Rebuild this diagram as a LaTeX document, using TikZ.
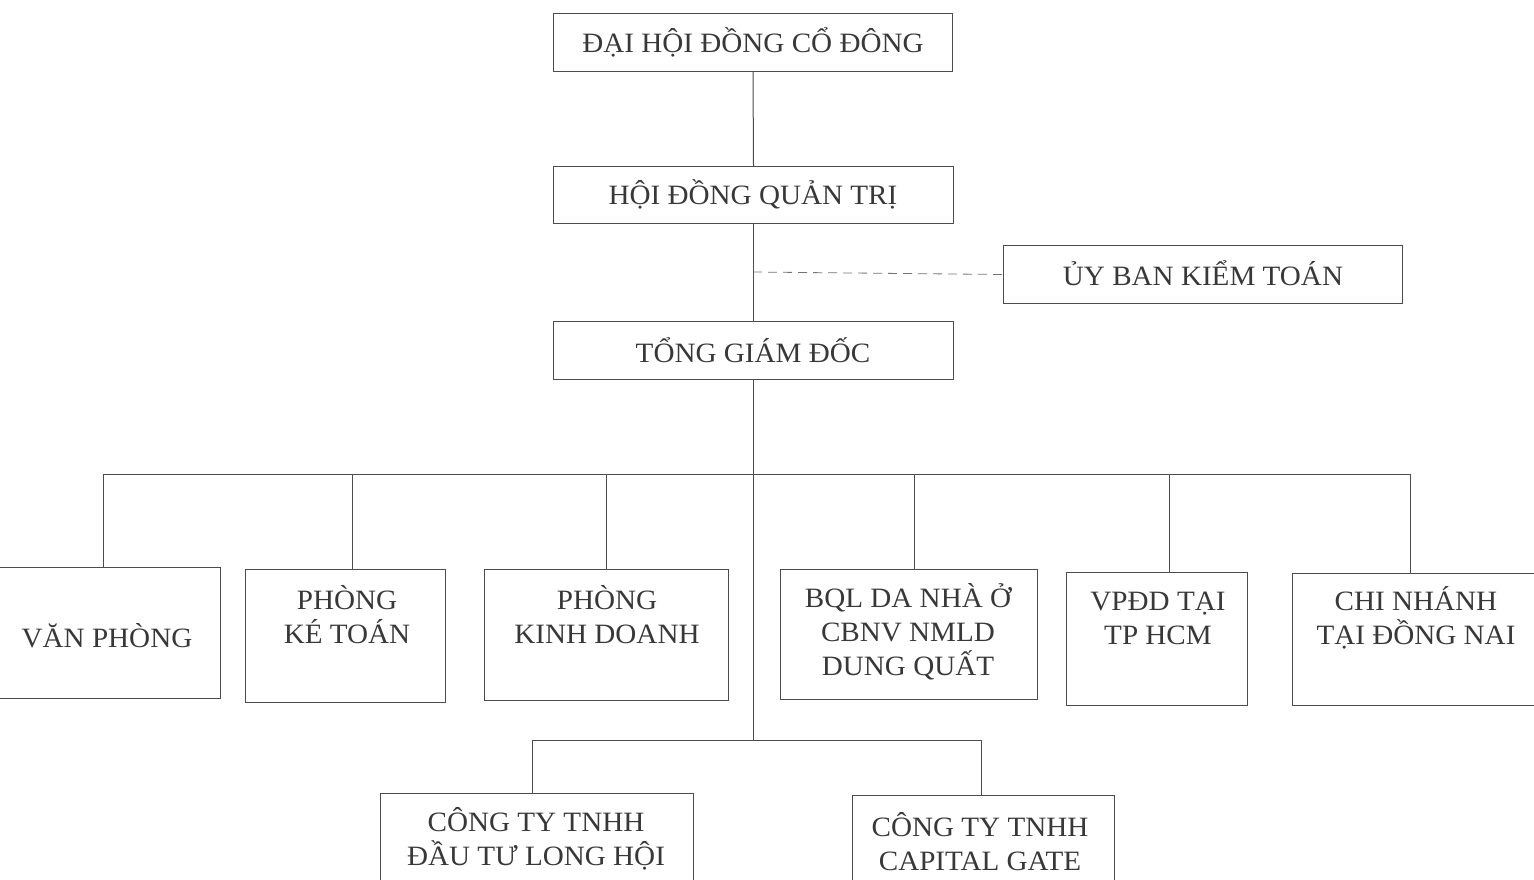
\documentclass[tikz,border=0pt]{standalone}
\usepackage{fontspec}
\setmainfont[FakeStretch=1.04]{Liberation Serif}
\usetikzlibrary{calc}
\begin{document}
\begin{tikzpicture}[x=1pt,y=-1pt,
  box/.style={draw=black!70, line width=1pt, rectangle, inner sep=0pt, anchor=north west},
  lbl/.style={font=\fontsize{28}{34}\selectfont, text=black!78, align=center, inner sep=0pt},
  conn/.style={draw=black!70, line width=1pt},
  auditline/.style={draw=black!55, line width=0.8pt, dash pattern=on 9pt off 6pt}
]
\useasboundingbox (0,0) rectangle (1534,879);

% boxes
\node[box, minimum width=399pt, minimum height=58pt] (dh) at (553,13) {};
\node[box, minimum width=400pt, minimum height=57pt] (hd) at (553,166) {};
\node[box, minimum width=399pt, minimum height=58pt] (ub) at (1003,245) {};
\node[box, minimum width=400pt, minimum height=58pt] (tg) at (553,321) {};
\node[box, minimum width=223pt, minimum height=131pt] (vp) at (-3,567) {};
\node[box, minimum width=200pt, minimum height=133pt] (kt) at (245,569) {};
\node[box, minimum width=244pt, minimum height=131pt] (kd) at (484,569) {};
\node[box, minimum width=257pt, minimum height=130pt] (bq) at (780,569) {};
\node[box, minimum width=181pt, minimum height=133pt] (vd) at (1066,572) {};
\node[box, minimum width=245pt, minimum height=132pt] (cn) at (1292,573) {};
\node[box, minimum width=313pt, minimum height=110pt] (lh) at (380,793) {};
\node[box, minimum width=262pt, minimum height=110pt] (cg) at (852,795) {};

% texts
\node[lbl] (tdh) at (753,42) {ĐẠI HỘI ĐỒNG CỔ ĐÔNG};
\node[lbl] (thd) at (753,194) {HỘI ĐỒNG QUẢN TRỊ};
\node[lbl] (tub) at (1203,273) {ỦY BAN KIỂM TOÁN};
\node[lbl] (ttg) at (753,350) {TỔNG GIÁM ĐỐC};
\node[lbl] (tvp) at (107,636) {VĂN PHÒNG};
\node[lbl] (tkt) at (347,615) {PHÒNG\\KÉ TOÁN};
\node[lbl] (tkd) at (607,615) {PHÒNG\\KINH DOANH};
\node[lbl] (tbq) at (908,632) {BQL DA NHÀ Ở\\CBNV NMLD\\DUNG QUẤT};
\node[lbl] (tvd) at (1158,618) {VPĐD TẠI\\TP HCM};
\node[lbl] (tcn) at (1416,618) {CHI NHÁNH\\TẠI ĐỒNG NAI};
\node[lbl] (tlh) at (536,839) {CÔNG TY TNHH\\ĐẦU TƯ LONG HỘI};
\node[lbl] (tcg) at (980,842) {CÔNG TY TNHH\\CAPITAL GATE};

% junction coordinates
\coordinate (busy) at (0,474);
\coordinate (suby) at (0,740);
\coordinate (audit) at (753,272);

% connectors
\draw[conn] (dh.south) -- (hd.north);
\draw[conn] (hd.south) -- (tg.north);
\draw[auditline] (audit) -- (ub.west);
\draw[conn] (tg.south) -- (tg.south |- suby);
\draw[conn] ([xshift=-6pt]vp.north |- busy) -- ([xshift=-5pt]cn.north |- busy);
\draw[conn] ([xshift=-6pt]vp.north |- busy) -- ([xshift=-6pt]vp.north);
\draw[conn] ([xshift=7pt]kt.north |- busy) -- ([xshift=7pt]kt.north);
\draw[conn] (kd.north |- busy) -- (kd.north);
\draw[conn] ([xshift=5pt]bq.north |- busy) -- ([xshift=5pt]bq.north);
\draw[conn] ([xshift=12pt]vd.north |- busy) -- ([xshift=12pt]vd.north);
\draw[conn] ([xshift=-5pt]cn.north |- busy) -- ([xshift=-5pt]cn.north);
\draw[conn] ([xshift=-5pt]lh.north |- suby) -- ([xshift=-2pt]cg.north |- suby);
\draw[conn] ([xshift=-5pt]lh.north |- suby) -- ([xshift=-5pt]lh.north);
\draw[conn] ([xshift=-2pt]cg.north |- suby) -- ([xshift=-2pt]cg.north);
\end{tikzpicture}
\end{document}
